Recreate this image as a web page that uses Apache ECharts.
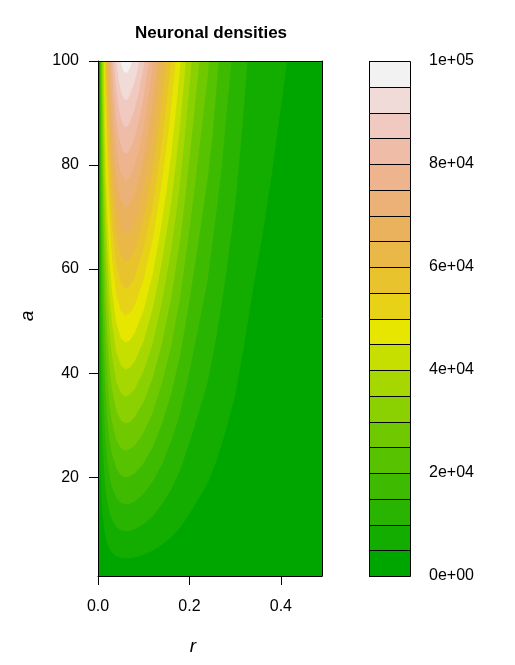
<!DOCTYPE html>
<html>
<head>
<meta charset="utf-8">
<script src="https://cdn.jsdelivr.net/npm/echarts@6/dist/echarts.min.js"></script>
<style>
  html, body { margin: 0; padding: 0; background: #fff; }
  #chart { width: 515px; height: 665px; }
</style>
</head>
<body>
<div id="chart"></div>
<script>
  // axis ticks
  var rTicks = [0, 0.2, 0.4];
  var aTicks = [20, 40, 60, 80, 100];

  // colour key: 20 levels of 5000, terrain colours
  var levelBreaks = [0, 5000, 10000, 15000, 20000, 25000, 30000, 35000, 40000, 45000, 50000,
    55000, 60000, 65000, 70000, 75000, 80000, 85000, 90000, 95000, 100000];
  var levelColors = ['#00A600', '#13AD00', '#28B400', '#3EBB00', '#56C200', '#70C900', '#8BD000',
    '#A7D700', '#C6DE00', '#E6E600', '#E7D217', '#E8C32E', '#E9B846', '#EBB25E', '#ECB176',
    '#EDB48E', '#EEBCA7', '#F0C9C0', '#F1DBD9', '#F2F2F2'];
  var keyTicks = [0, 20000, 40000, 60000, 80000, 100000];
  var keyLabels = ['0e+00', '2e+04', '4e+04', '6e+04', '8e+04', '1e+05'];

  // contour lines [r, a], density >= level above each line
  var lev05 = [[0.005,100],[0.005,24.5],[0.0075,16.7],[0.01,12.9],[0.015,9.1],[0.02,7.3],[0.025,6.2],[0.03,5.5],[0.04,4.8],[0.05,4.5],[0.06,4.4],[0.07,4.4],[0.08,4.6],[0.10,5.1],[0.12,5.9],[0.14,7.0],[0.16,8.4],[0.18,10.3],[0.20,12.9],[0.22,15.8],[0.24,18.8],[0.26,23.3],[0.28,29.0],[0.30,35.7],[0.32,45.5],[0.34,56.6],[0.36,66.6],[0.38,78.2],[0.40,91.1],[0.414,100]];
  var lev10 = [[0.005,100],[0.005,49.8],[0.0075,34.2],[0.01,26.6],[0.015,19.0],[0.02,15.4],[0.025,13.2],[0.03,11.9],[0.04,10.4],[0.05,9.8],[0.06,9.6],[0.07,9.7],[0.08,10.0],[0.10,11.0],[0.12,12.5],[0.14,14.8],[0.16,17.6],[0.18,21.4],[0.20,26.6],[0.22,32.3],[0.24,38.3],[0.26,47.4],[0.28,58.8],[0.30,72.2],[0.31,81.5],[0.32,91.8],[0.327,100]];
  var lev15 = [[0.005,100],[0.005,75.1],[0.0075,51.7],[0.01,40.4],[0.015,28.9],[0.02,23.4],[0.025,20.2],[0.03,18.2],[0.04,16.0],[0.05,15.1],[0.06,14.8],[0.07,14.9],[0.08,15.3],[0.10,16.8],[0.12,19.2],[0.14,22.5],[0.16,26.8],[0.18,32.5],[0.20,40.2],[0.22,48.9],[0.24,57.9],[0.26,71.5],[0.27,79.0],[0.28,88.6],[0.292,100]];
  var lev20 = [[0.005,100],[0.0075,69.2],[0.01,54.1],[0.0125,44.9],[0.015,38.8],[0.02,31.5],[0.025,27.2],[0.03,24.6],[0.04,21.6],[0.05,20.3],[0.06,19.9],[0.07,20.2],[0.08,20.7],[0.10,22.7],[0.12,25.8],[0.14,30.3],[0.16,36.0],[0.18,43.6],[0.20,53.9],[0.22,65.4],[0.24,77.5],[0.25,85.2],[0.26,95.6],[0.264,100]];
  var lev25 = [[0.0067,100],[0.0075,86.8],[0.01,67.8],[0.0125,56.3],[0.015,48.8],[0.02,39.6],[0.025,34.2],[0.03,30.9],[0.04,27.2],[0.05,25.6],[0.06,25.1],[0.07,25.4],[0.08,26.1],[0.10,28.6],[0.12,32.5],[0.14,38.1],[0.16,45.2],[0.18,54.7],[0.20,67.6],[0.21,74.6],[0.22,82.0],[0.23,89.5],[0.24,97.0],[0.243,100]];
  var lev30 = [[0.008,100],[0.01,81.5],[0.0125,67.7],[0.015,58.7],[0.0175,52.4],[0.02,47.7],[0.025,41.2],[0.03,37.2],[0.04,32.8],[0.05,30.9],[0.06,30.3],[0.07,30.6],[0.08,31.5],[0.10,34.5],[0.12,39.1],[0.14,45.8],[0.16,54.4],[0.18,65.8],[0.19,73.1],[0.20,81.3],[0.21,89.6],[0.222,100]];
  var lev35 = [[0.0096,100],[0.01,95.2],[0.0125,79.0],[0.015,68.6],[0.0175,61.2],[0.02,55.8],[0.025,48.2],[0.03,43.6],[0.04,38.4],[0.05,36.2],[0.06,35.5],[0.07,35.9],[0.08,36.9],[0.10,40.4],[0.12,45.8],[0.14,53.6],[0.16,63.6],[0.17,70.0],[0.18,76.9],[0.19,85.4],[0.20,95.0],[0.205,100]];
  var lev40 = [[0.0115,100],[0.0125,90.6],[0.015,78.5],[0.0175,70.1],[0.02,63.8],[0.025,55.2],[0.03,49.9],[0.04,44.0],[0.05,41.5],[0.06,40.7],[0.07,41.1],[0.08,42.2],[0.10,46.2],[0.12,52.4],[0.14,61.4],[0.16,72.7],[0.17,80.0],[0.18,88.0],[0.19,97.7],[0.192,100]];
  var lev45 = [[0.0133,100],[0.015,88.4],[0.0175,78.9],[0.02,71.9],[0.025,62.2],[0.03,56.2],[0.04,49.6],[0.05,46.7],[0.06,45.9],[0.07,46.3],[0.08,47.6],[0.10,52.1],[0.12,59.1],[0.14,69.2],[0.15,75.1],[0.16,81.9],[0.17,90.1],[0.18,99.1],[0.181,100]];
  var lev50 = [[0.0148,100],[0.015,98.3],[0.0175,87.8],[0.02,80.0],[0.0225,74.0],[0.025,69.2],[0.03,62.6],[0.04,55.3],[0.05,52.0],[0.06,51.1],[0.07,51.6],[0.08,53.0],[0.10,58.0],[0.12,65.8],[0.14,76.9],[0.15,83.5],[0.16,91.1],[0.17,100]];
  var lev55 = [[0.017,100],[0.0175,96.7],[0.02,88.1],[0.0225,81.4],[0.025,76.2],[0.03,68.9],[0.04,60.9],[0.05,57.3],[0.06,56.2],[0.07,56.8],[0.08,58.4],[0.10,63.9],[0.12,72.4],[0.13,78.1],[0.14,84.7],[0.15,91.9],[0.16,100]];
  var lev60 = [[0.019,100],[0.02,96.1],[0.0225,88.9],[0.025,83.2],[0.03,75.3],[0.04,66.5],[0.05,62.6],[0.06,61.4],[0.07,62.0],[0.08,63.7],[0.10,69.7],[0.11,74.1],[0.12,79.1],[0.13,85.2],[0.14,92.5],[0.15,100]];
  var lev65 = [[0.0215,100],[0.0225,96.4],[0.025,90.3],[0.0275,85.5],[0.03,81.6],[0.035,75.9],[0.04,72.1],[0.05,67.9],[0.06,66.6],[0.07,67.3],[0.08,69.1],[0.09,71.8],[0.10,75.6],[0.11,80.3],[0.12,85.7],[0.13,92.4],[0.14,100]];
  var lev70 = [[0.0241,100],[0.025,97.3],[0.0275,92.1],[0.03,87.9],[0.035,81.8],[0.04,77.7],[0.05,73.2],[0.06,71.8],[0.07,72.5],[0.08,74.5],[0.09,77.4],[0.10,81.5],[0.11,86.5],[0.12,92.4],[0.13,99.6],[0.1305,100]];
  var lev75 = [[0.0271,100],[0.0275,98.8],[0.03,94.3],[0.0325,90.6],[0.035,87.7],[0.04,83.3],[0.045,80.3],[0.05,78.4],[0.06,77.0],[0.07,77.7],[0.08,79.9],[0.09,83.0],[0.10,87.4],[0.11,92.8],[0.12,99.0],[0.1213,100]];
  var lev80 = [[0.0304,100],[0.0325,96.7],[0.035,93.6],[0.04,88.9],[0.045,85.7],[0.05,83.7],[0.055,82.6],[0.06,82.2],[0.065,82.3],[0.07,83.0],[0.08,85.2],[0.09,88.6],[0.10,93.3],[0.11,99.0],[0.1115,100]];
  var lev85 = [[0.0346,100],[0.0375,96.7],[0.04,94.5],[0.045,91.1],[0.05,89.0],[0.055,87.8],[0.06,87.3],[0.065,87.5],[0.07,88.2],[0.08,90.6],[0.09,94.2],[0.10,99.1],[0.1014,100]];
  var lev90 = [[0.0401,100],[0.045,96.5],[0.05,94.3],[0.055,93.0],[0.06,92.5],[0.065,92.7],[0.07,93.5],[0.08,96.0],[0.085,97.8],[0.0905,100]];
  var lev95 = [[0.0491,100],[0.055,98.2],[0.06,97.7],[0.065,97.9],[0.07,98.7],[0.0749,100]];

  var contours = [lev05, lev10, lev15, lev20, lev25, lev30, lev35, lev40, lev45, lev50,
    lev55, lev60, lev65, lev70, lev75, lev80, lev85, lev90, lev95];

  var FONT = '"Liberation Sans", Arial, Helvetica, sans-serif';

  var myChart = echarts.init(document.getElementById('chart'), null, { renderer: 'canvas' });

  // filled contour bands, each painted over the one below
  var series = contours.map(function (pts, i) {
    return {
      type: 'line',
      xAxisIndex: 0,
      yAxisIndex: 0,
      data: pts,
      symbol: 'none',
      silent: true,
      smooth: false,
      lineStyle: { width: 0 },
      areaStyle: { color: levelColors[i + 1], opacity: 1, origin: 'end' }
    };
  });

  // colour key boxes
  series.push({
    type: 'custom',
    xAxisIndex: 2,
    yAxisIndex: 2,
    silent: true,
    clip: false,
    z: 5,
    encode: { y: [0, 1] },
    data: levelColors.map(function (c, i) {
      return { value: [levelBreaks[i], levelBreaks[i + 1]], itemStyle: { color: c } };
    }),
    renderItem: function (params, api) {
      var p0 = api.coord([0, api.value(1)]);
      var p1 = api.coord([1, api.value(0)]);
      var x0 = Math.round(p0[0]) + 0.5, y0 = Math.round(p0[1]) + 0.5;
      var x1 = Math.round(p1[0]) + 0.5, y1 = Math.round(p1[1]) + 0.5;
      return {
        type: 'rect',
        shape: { x: x0, y: y0, width: x1 - x0, height: y1 - y0 },
        style: { fill: api.visual('color'), stroke: '#000', lineWidth: 1 }
      };
    }
  });

  myChart.setOption({
    animation: false,
    backgroundColor: '#fff',
    textStyle: { fontFamily: FONT },
    grid: [
      { left: 98, right: 193, top: 61, bottom: 89, show: true, backgroundColor: levelColors[0], borderWidth: 0 },
      { left: 369, width: 41, top: 61, bottom: 89 }
    ],
    xAxis: [
      {
        type: 'value', gridIndex: 0, position: 'bottom', min: 0, max: 0.49, z: 10,
        axisLine: { show: true, lineStyle: { color: '#000', width: 1 } },
        axisTick: { show: true, inside: false, length: 9, customValues: rTicks, lineStyle: { color: '#000' } },
        axisLabel: {
          customValues: rTicks, margin: 23, color: '#000', fontSize: 16, fontFamily: FONT,
          formatter: function (v) { return v.toFixed(1); }
        },
        splitLine: { show: false }
      },
      {
        type: 'value', gridIndex: 0, position: 'top', min: 0, max: 0.49, z: 10,
        axisLine: { show: true, onZero: false, lineStyle: { color: '#000', width: 1 } },
        axisTick: { show: false }, axisLabel: { show: false }, splitLine: { show: false }
      },
      {
        type: 'value', gridIndex: 1, min: 0, max: 1, show: false,
        axisLine: { show: false }, axisTick: { show: false }, axisLabel: { show: false }, splitLine: { show: false }
      }
    ],
    yAxis: [
      {
        type: 'value', gridIndex: 0, position: 'left', min: 1, max: 100, z: 10,
        axisLine: { show: true, onZero: false, lineStyle: { color: '#000', width: 1 } },
        axisTick: { show: true, inside: false, length: 9, customValues: aTicks, lineStyle: { color: '#000' } },
        axisLabel: { customValues: aTicks, margin: 19, color: '#000', fontSize: 16, fontFamily: FONT },
        splitLine: { show: false }
      },
      {
        type: 'value', gridIndex: 0, position: 'right', min: 1, max: 100, z: 10,
        axisLine: { show: true, onZero: false, lineStyle: { color: '#000', width: 1 } },
        axisTick: { show: false }, axisLabel: { show: false }, splitLine: { show: false }
      },
      {
        type: 'value', gridIndex: 1, position: 'right', min: 0, max: 100000, interval: 20000,
        axisLine: { show: false },
        axisTick: { show: true, inside: false, length: 10, lineStyle: { color: '#000' } },
        axisLabel: {
          margin: 19, color: '#000', fontSize: 16, fontFamily: FONT,
          formatter: function (v) { return keyLabels[keyTicks.indexOf(v)]; }
        },
        splitLine: { show: false }
      }
    ],
    graphic: [
      {
        type: 'text', x: 211, y: 33,
        style: { text: 'Neuronal densities', fill: '#000', font: 'bold 17px ' + FONT, align: 'center', verticalAlign: 'middle' }
      },
      {
        type: 'text', x: 193, y: 647,
        style: { text: 'r', fill: '#000', font: 'italic 19px ' + FONT, align: 'center', verticalAlign: 'middle' }
      },
      {
        type: 'text', x: 28, y: 316, rotation: Math.PI / 2,
        style: { text: 'a', fill: '#000', font: 'italic 19px ' + FONT, align: 'center', verticalAlign: 'middle' }
      }
    ],
    series: series
  });
</script>
</body>
</html>
